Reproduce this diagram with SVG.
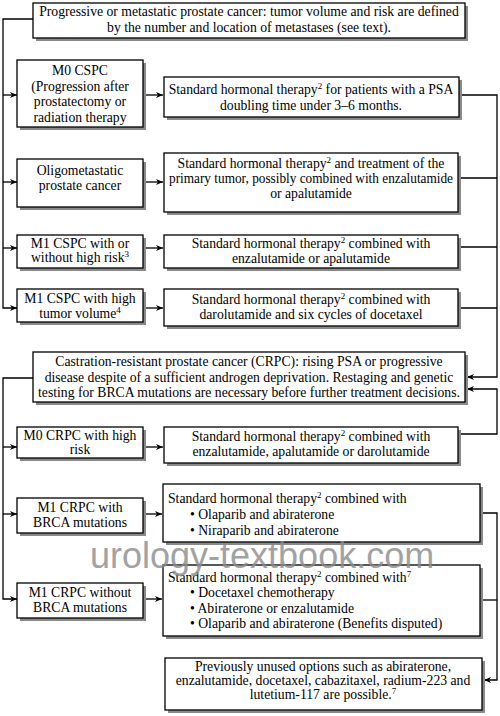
<svg xmlns="http://www.w3.org/2000/svg" width="500" height="716" viewBox="0 0 500 716">
<defs>
<marker id="ah" markerUnits="userSpaceOnUse" markerWidth="8" markerHeight="6" refX="7" refY="3" orient="auto">
<path d="M0,0 L7,3 L0,6 L2,3 z" fill="#000"/>
</marker>
<style>
.box{fill:#fff;stroke:#000;stroke-width:1.3}
.sh{fill:#8a8a8a}
.t{font-family:"Liberation Serif","Times New Roman",serif;font-size:13.7px;fill:#000}
.c{text-anchor:middle}
.ln{fill:none;stroke:#000;stroke-width:1.3}
.ar{fill:none;stroke:#000;stroke-width:1.3;marker-end:url(#ah)}
.sup{font-size:9px}
.wm{font-family:"Liberation Sans",Arial,sans-serif;font-size:36px;fill:#8c8c8c;opacity:0.8}
</style>
</defs>
<rect width="500" height="716" fill="#fff"/>

<g id="connectors">
<path class="ar" d="M33,19 H3 V308 H17"/>
<path class="ar" d="M3,95 H17"/>
<path class="ar" d="M3,182 H17"/>
<path class="ar" d="M3,248 H17"/>
<path class="ar" d="M143,95 H163"/>
<path class="ar" d="M143,182 H163"/>
<path class="ar" d="M143,248 H163"/>
<path class="ar" d="M143,308 H163"/>
<path class="ar" d="M459,95 H497 V377 H467"/>
<path class="ln" d="M458,178 H497"/>
<path class="ln" d="M458,247 H497"/>
<path class="ln" d="M458,308 H497"/>
<path class="ar" d="M458,434 H497 V389 H467"/>
<path class="ar" d="M33,378 H3 V599 H17"/>
<path class="ar" d="M3,447 H17"/>
<path class="ar" d="M3,514 H17"/>
<path class="ar" d="M143,447 H163"/>
<path class="ar" d="M143,514 H162"/>
<path class="ar" d="M143,599 H162"/>
<path class="ar" d="M480,513 H497 V680 H484"/>
<path class="ln" d="M480,600 H497"/>
</g>

<g id="n-top">
<rect class="sh" x="36" y="6" width="432" height="35"/>
<rect class="box" x="33" y="3" width="432" height="35"/>
<text class="t c" x="249" y="16">Progressive or metastatic prostate cancer: tumor volume and risk are defined</text>
<text class="t c" x="249" y="32">by the number and location of metastases (see text).</text>
</g>

<g id="n-m0cspc">
<rect class="sh" x="20" y="63" width="126" height="67"/>
<rect class="box" x="17" y="60" width="126" height="67"/>
<text class="t c" x="80" y="75">M0 CSPC</text>
<text class="t c" x="80" y="91">(Progression after</text>
<text class="t c" x="80" y="106">prostatectomy or</text>
<text class="t c" x="80" y="122">radiation therapy</text>
</g>

<g id="n-m0cspc-tx">
<rect class="sh" x="167" y="80" width="295" height="40"/>
<rect class="box" x="164" y="77" width="295" height="40"/>
<text class="t c" x="311" y="94">Standard hormonal therapy<tspan class="sup" dy="-5">2</tspan><tspan dy="5"> for patients with a PSA</tspan></text>
<text class="t c" x="311" y="110">doubling time under 3–6 months.</text>
</g>

<g id="n-oligo">
<rect class="sh" x="20" y="162" width="126" height="48"/>
<rect class="box" x="17" y="159" width="126" height="48"/>
<text class="t c" x="80" y="175">Oligometastatic</text>
<text class="t c" x="80" y="190">prostate cancer</text>
</g>

<g id="n-oligo-tx">
<rect class="sh" x="167" y="156" width="294" height="59"/>
<rect class="box" x="164" y="153" width="294" height="59"/>
<text class="t c" x="311" y="168">Standard hormonal therapy<tspan class="sup" dy="-5">2</tspan><tspan dy="5"> and treatment of the</tspan></text>
<text class="t c" x="311" y="183" textLength="284" lengthAdjust="spacingAndGlyphs">primary tumor, possibly combined with enzalutamide</text>
<text class="t c" x="311" y="198">or apalutamide</text>
</g>

<g id="n-m1cspc">
<rect class="sh" x="20" y="238" width="126" height="33"/>
<rect class="box" x="17" y="235" width="126" height="33"/>
<text class="t c" x="80" y="248">M1 CSPC with or</text>
<text class="t c" x="80" y="262">without high risk<tspan class="sup" dy="-5">3</tspan></text>
</g>

<g id="n-m1cspc-tx">
<rect class="sh" x="167" y="238" width="294" height="33"/>
<rect class="box" x="164" y="235" width="294" height="33"/>
<text class="t c" x="311" y="248">Standard hormonal therapy<tspan class="sup" dy="-5">2</tspan><tspan dy="5"> combined with</tspan></text>
<text class="t c" x="311" y="263">enzalutamide or apalutamide</text>
</g>

<g id="n-m1cspc-high">
<rect class="sh" x="20" y="292" width="126" height="33"/>
<rect class="box" x="17" y="289" width="126" height="33"/>
<text class="t c" x="80" y="303">M1 CSPC with high</text>
<text class="t c" x="80" y="318">tumor volume<tspan class="sup" dy="-5">4</tspan></text>
</g>

<g id="n-m1cspc-high-tx">
<rect class="sh" x="167" y="292" width="294" height="37"/>
<rect class="box" x="164" y="289" width="294" height="37"/>
<text class="t c" x="311" y="304">Standard hormonal therapy<tspan class="sup" dy="-5">2</tspan><tspan dy="5"> combined with</tspan></text>
<text class="t c" x="311" y="319">darolutamide and six cycles of docetaxel</text>
</g>

<g id="n-crpc">
<rect class="sh" x="36" y="355" width="432" height="50"/>
<rect class="box" x="33" y="352" width="432" height="50"/>
<text class="t c" x="249" y="366">Castration-resistant prostate cancer (CRPC): rising PSA or progressive</text>
<text class="t c" x="249" y="382">disease despite of a sufficient androgen deprivation. Restaging and genetic</text>
<text class="t c" x="249" y="397">testing for BRCA mutations are necessary before further treatment decisions.</text>
</g>

<g id="n-m0crpc">
<rect class="sh" x="20" y="430" width="126" height="31"/>
<rect class="box" x="17" y="427" width="126" height="31"/>
<text class="t c" x="80" y="440">M0 CRPC with high</text>
<text class="t c" x="80" y="454">risk</text>
</g>

<g id="n-m0crpc-tx">
<rect class="sh" x="167" y="430" width="294" height="36"/>
<rect class="box" x="164" y="427" width="294" height="36"/>
<text class="t c" x="311" y="441">Standard hormonal therapy<tspan class="sup" dy="-5">2</tspan><tspan dy="5"> combined with</tspan></text>
<text class="t c" x="311" y="456">enzalutamide, apalutamide or darolutamide</text>
</g>

<g id="n-m1crpc-brca">
<rect class="sh" x="20" y="501" width="126" height="35"/>
<rect class="box" x="17" y="498" width="126" height="35"/>
<text class="t c" x="80" y="512">M1 CRPC with</text>
<text class="t c" x="80" y="527">BRCA mutations</text>
</g>

<g id="n-m1crpc-brca-tx">
<rect class="sh" x="166" y="487" width="317" height="58"/>
<rect class="box" x="163" y="484" width="317" height="58"/>
<text class="t" x="168" y="503">Standard hormonal therapy<tspan class="sup" dy="-5">2</tspan><tspan dy="5"> combined with</tspan></text>
<text class="t" x="190" y="519">•  Olaparib and abiraterone</text>
<text class="t" x="190" y="535">•  Niraparib and abiraterone</text>
</g>

<g id="n-m1crpc-nobrca">
<rect class="sh" x="20" y="586" width="126" height="35"/>
<rect class="box" x="17" y="583" width="126" height="35"/>
<text class="t c" x="80" y="597">M1 CRPC without</text>
<text class="t c" x="80" y="612">BRCA mutations</text>
</g>

<g id="n-m1crpc-nobrca-tx">
<rect class="sh" x="166" y="568" width="317" height="71"/>
<rect class="box" x="163" y="565" width="317" height="71"/>
<text class="t" x="168" y="582">Standard hormonal therapy<tspan class="sup" dy="-5">2</tspan><tspan dy="5"> combined with</tspan><tspan class="sup" dy="-5">7</tspan></text>
<text class="t" x="190" y="597">•  Docetaxel chemotherapy</text>
<text class="t" x="190" y="613">•  Abiraterone or enzalutamide</text>
<text class="t" x="190" y="628">•  Olaparib and abiraterone (Benefits disputed)</text>
</g>

<g id="n-later">
<rect class="sh" x="168" y="661" width="317" height="52"/>
<rect class="box" x="165" y="658" width="317" height="52"/>
<text class="t c" x="323" y="671">Previously unused options such as abiraterone,</text>
<text class="t c" x="323" y="685">enzalutamide, docetaxel, cabazitaxel, radium-223 and</text>
<text class="t c" x="323" y="699">lutetium-117 are possible.<tspan class="sup" dy="-5">7</tspan></text>
</g>

<text class="wm" x="90" y="568">urology-textbook.com</text>
</svg>
